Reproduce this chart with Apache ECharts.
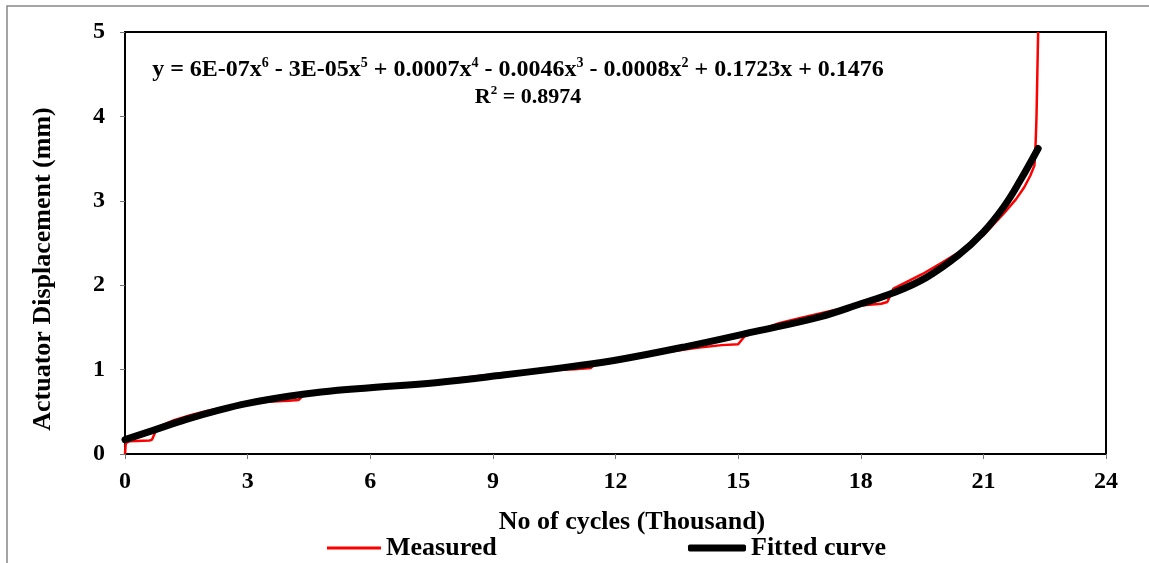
<!DOCTYPE html>
<html>
<head>
<meta charset="utf-8">
<script src="https://cdn.jsdelivr.net/npm/echarts@6/dist/echarts.min.js"></script>
<style>
  html, body { margin: 0; padding: 0; background: #fff; }
  #chart { width: 1149px; height: 563px; }
</style>
</head>
<body>
<div id="chart"></div>
<script>
// Measured actuator displacement (mm) against cycles (thousand)
const measuredCycles = [0, 0.02, 0.1, 0.6, 0.66, 0.75, 0.9, 1.2, 1.6, 2.0, 2.5, 3.0, 3.5, 4.0, 4.25, 4.35,
  5.0, 6.0, 7.0, 8.0, 9.0, 9.7, 10.3, 11.0, 11.4, 11.5, 12.0, 13.0, 14.0, 14.6, 15.0, 15.15, 15.5,
  16.0, 16.5, 17.0, 17.5, 18.0, 18.5, 18.65, 18.8, 19.5, 20.0, 20.5, 21.0, 21.5, 21.8, 22.0, 22.15,
  22.25, 22.28, 22.30, 22.32, 22.34];
const measuredDisp = [0, 0.13, 0.15, 0.16, 0.17, 0.27, 0.34, 0.40, 0.46, 0.51, 0.56, 0.60, 0.62, 0.63, 0.64, 0.69,
  0.745, 0.79, 0.83, 0.885, 0.945, 0.965, 0.99, 1.005, 1.02, 1.07, 1.11, 1.19, 1.26, 1.29, 1.30, 1.39, 1.46,
  1.55, 1.61, 1.665, 1.72, 1.76, 1.78, 1.80, 1.96, 2.13, 2.27, 2.42, 2.59, 2.85, 3.02, 3.16, 3.30,
  3.42, 3.7, 4.0, 4.5, 5.0];

// Polynomial trend line
const fittedCycles = [0, 0.69, 1.5, 2.3, 3.0, 4.0, 4.8, 6.0, 7.6, 9.25, 10.9, 12.1, 13.7, 15.4, 17.0,
  18.0, 18.8, 19.6, 20.4, 21.0, 21.5, 21.9, 22.34];
const fittedDisp = [0.17, 0.28, 0.41, 0.52, 0.60, 0.685, 0.735, 0.785, 0.845, 0.935, 1.035, 1.12, 1.27, 1.45, 1.625,
  1.78, 1.91, 2.09, 2.36, 2.63, 2.93, 3.24, 3.62];

const equationText = '{n|y = 6E-07x}{s|6}{n| - 3E-05x}{s|5}{n| + 0.0007x}{s|4}{n| - 0.0046x}{s|3}{n| - 0.0008x}{s|2}{n| + 0.1723x + 0.1476}';
const r2Text = '{n|R}{s|2}{n| = 0.8974}';
const yTitle = 'Actuator Displacement (mm)';
const xTitle = 'No of cycles (Thousand)';

const serif = 'Liberation Serif';
const pair = (xs, ys) => xs.map((x, i) => [x, ys[i]]);
const eqRich = (size, supSize) => ({
  n: { fontFamily: serif, fontWeight: 'bold', fontSize: size, fill: '#000', lineHeight: size + 4 },
  s: { fontFamily: serif, fontWeight: 'bold', fontSize: supSize, fill: '#000', verticalAlign: 'top' }
});

const chart = echarts.init(document.getElementById('chart'));
chart.setOption({
  animation: false,
  backgroundColor: '#fff',
  grid: { left: 125, right: 43, top: 32, bottom: 109, show: true, borderColor: '#000', borderWidth: 2 },
  xAxis: {
    type: 'value', min: 0, max: 24, interval: 3,
    axisLine: { show: true, lineStyle: { color: '#000', width: 2 } },
    axisTick: { show: true, length: 5, lineStyle: { color: '#777', width: 1 } },
    axisLabel: { margin: 16, fontFamily: serif, fontWeight: 'bold', fontSize: 24, color: '#000' },
    splitLine: { show: false }
  },
  yAxis: {
    type: 'value', min: 0, max: 5, interval: 1,
    axisLine: { show: true, lineStyle: { color: '#000', width: 2 } },
    axisTick: { show: true, length: 5, lineStyle: { color: '#777', width: 1 } },
    axisLabel: { margin: 20, fontFamily: serif, fontWeight: 'bold', fontSize: 24, color: '#000' },
    splitLine: { show: false }
  },
  legend: [
    {
      data: ['Measured'], left: 322, top: 530, icon: 'rect', itemWidth: 54, itemHeight: 3,
      textStyle: { fontFamily: serif, fontWeight: 'bold', fontSize: 26, color: '#000' }
    },
    {
      data: ['Fitted curve'], left: 683, top: 530, icon: 'roundRect', itemWidth: 58, itemHeight: 7,
      textStyle: { fontFamily: serif, fontWeight: 'bold', fontSize: 26, color: '#000' }
    }
  ],
  series: [
    {
      name: 'Measured', type: 'line', data: pair(measuredCycles, measuredDisp),
      showSymbol: false, symbol: 'none', itemStyle: { color: '#ff0000' },
      lineStyle: { color: '#ff0000', width: 2.5 }, z: 2
    },
    {
      name: 'Fitted curve', type: 'line', data: pair(fittedCycles, fittedDisp),
      smooth: 0.4, showSymbol: false, symbol: 'none', itemStyle: { color: '#000' },
      lineStyle: { color: '#000', width: 7, cap: 'round', join: 'round' }, z: 3
    }
  ],
  graphic: [
    {
      type: 'polyline', silent: true,
      shape: { points: [[7, 563], [7, 6], [1149, 6]] },
      style: { stroke: '#888', lineWidth: 1.5, fill: null }
    },
    {
      type: 'text', x: 43, y: 269, rotation: Math.PI / 2, silent: true,
      style: {
        text: yTitle, align: 'center', verticalAlign: 'middle',
        fontFamily: serif, fontWeight: 'bold', fontSize: 26, fill: '#000'
      }
    },
    {
      type: 'text', x: 632, y: 522, silent: true,
      style: {
        text: xTitle, align: 'center', verticalAlign: 'middle',
        fontFamily: serif, fontWeight: 'bold', fontSize: 26, fill: '#000'
      }
    },
    {
      type: 'text', x: 518, y: 70, silent: true,
      style: { text: equationText, align: 'center', verticalAlign: 'middle', rich: eqRich(24, 14) }
    },
    {
      type: 'text', x: 528, y: 97, silent: true,
      style: { text: r2Text, align: 'center', verticalAlign: 'middle', rich: eqRich(22, 13) }
    }
  ]
});
</script>
</body>
</html>
